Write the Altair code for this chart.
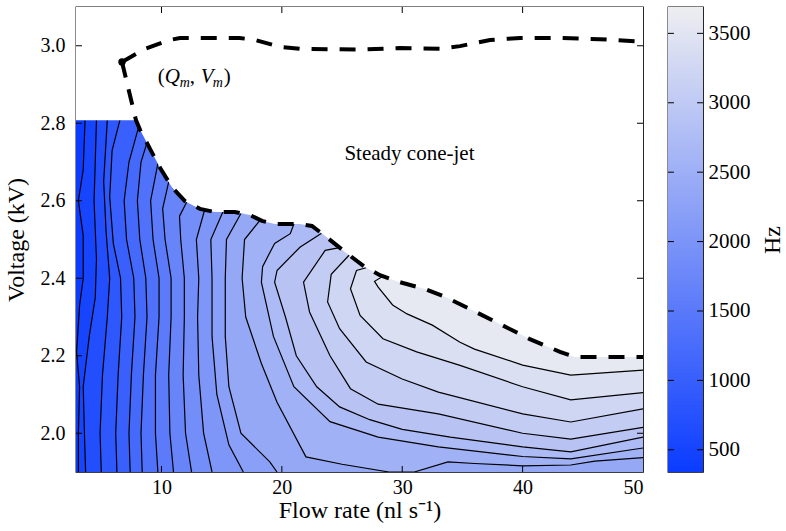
import numpy as np
import pandas as pd
import altair as alt

FONT = "Liberation Serif"
FLOW_MIN, FLOW_MAX = 2.9, 50.0
V_MIN, V_MAX = 1.9, 3.1
HZ_MIN, HZ_MAX = 340, 3690
BLUE, GREY = "#0b3cff", "#eeeef1"

# lower limit of the steady cone-jet region (flow rate, voltage)
boundary_q = [2.9, 7.88, 8.22, 9.05, 9.88, 10.87, 11.95, 13.2, 14.44, 16.1, 17.35, 18.35,
              19.43, 21.5, 22.5, 23.6, 25.24, 26.9, 28.15, 29.8, 31.9, 33.55, 35.6, 38.1,
              40.6, 43.1, 44.35, 50.0]
boundary_v = [2.808, 2.808, 2.783, 2.734, 2.685, 2.635, 2.599, 2.579, 2.571, 2.571, 2.563, 2.548,
              2.540, 2.540, 2.535, 2.509, 2.468, 2.429, 2.408, 2.390, 2.372, 2.352, 2.321, 2.282,
              2.243, 2.210, 2.197, 2.197]

# upper limit of the steady cone-jet region
upper_q = [6.72, 8.63, 10.7, 11.54, 16.5, 17.77, 19.84, 21.5, 26.5, 29.8, 33.1, 34.8, 37.3,
           39.8, 43.1, 46.4, 50.0]
upper_v = [2.958, 2.992, 3.015, 3.02, 3.02, 3.015, 2.997, 2.992, 2.99, 2.994, 2.992, 2.999,
           3.015, 3.02, 3.02, 3.017, 3.01]

# minimum flow rate point
q_m, v_m = 6.72, 2.958

# jet frequency iso-lines (Hz): (flow rate, voltage) along each line,
# oriented so that higher frequencies lie on the right-hand side
c510 = [(3.1, 1.9), (3.1, 2.0), (3.2, 2.12), (2.95, 2.21), (3.2, 2.33), (3.5, 2.4), (3.5, 2.51),
        (3.1, 2.6), (3.5, 2.68), (3.65, 2.808)]
c680 = [(3.7, 1.9), (3.6, 2.0), (3.5, 2.12), (4.0, 2.25), (4.5, 2.35), (4.6, 2.45), (4.4, 2.6),
        (4.5, 2.7), (4.6, 2.808)]
c850 = [(5.0, 1.9), (4.9, 2.0), (5.1, 2.15), (5.5, 2.3), (5.7, 2.4), (5.4, 2.52), (5.2, 2.65),
        (5.5, 2.808)]
c1020 = [(6.3, 1.9), (6.2, 2.0), (6.4, 2.15), (6.7, 2.3), (6.6, 2.4), (6.0, 2.49), (5.7, 2.61),
         (5.9, 2.73), (6.55, 2.808)]
c1190 = [(7.4, 1.9), (7.3, 2.0), (7.5, 2.15), (7.8, 2.3), (7.7, 2.4), (7.1, 2.5), (6.9, 2.6),
         (7.3, 2.7), (8.1, 2.79)]
c1360 = [(8.4, 1.9), (8.3, 2.0), (8.5, 2.15), (8.8, 2.3), (8.7, 2.4), (8.2, 2.5), (8.0, 2.6),
         (8.3, 2.7), (8.8, 2.75)]
c1530 = [(9.7, 1.9), (9.5, 2.0), (9.5, 2.15), (9.8, 2.3), (9.8, 2.4), (9.3, 2.5), (9.1, 2.6),
         (9.7, 2.696)]
c1700 = [(11.0, 1.9), (10.7, 2.0), (10.6, 2.15), (10.8, 2.3), (10.8, 2.4), (10.3, 2.5),
         (10.1, 2.58), (10.6, 2.649)]
c1870 = [(12.5, 1.9), (12.0, 2.0), (11.8, 2.15), (11.9, 2.3), (11.9, 2.4), (11.6, 2.5),
         (11.5, 2.56), (12.1, 2.597)]
c2040 = [(14.2, 1.9), (13.5, 2.0), (13.1, 2.15), (13.0, 2.3), (13.1, 2.4), (12.9, 2.5),
         (13.6, 2.578)]
c2210 = [(16.8, 1.9), (15.6, 1.97), (14.6, 2.1), (14.2, 2.25), (14.2, 2.4), (14.1, 2.5),
         (15.1, 2.571)]
c2380 = [(19.6, 1.9), (19.0, 1.926), (16.6, 2.0), (15.6, 2.12), (15.3, 2.25), (15.3, 2.4),
         (15.4, 2.5), (16.6, 2.567)]
c2550 = [(50.0, 1.937), (46.0, 1.928), (44.0, 1.918), (40.0, 1.916), (36.0, 1.922), (33.8, 1.926),
         (31.0, 1.9), (28.9, 1.9), (25.0, 1.92), (22.0, 1.939), (19.6, 2.08), (18.3, 2.18),
         (17.0, 2.3), (16.7, 2.4), (16.9, 2.5), (18.2, 2.55)]
c2720 = [(50.0, 1.962), (44.0, 1.934), (40.0, 1.94), (33.0, 1.965), (28.0, 1.99), (24.0, 2.03),
         (21.0, 2.12), (19.3, 2.25), (18.3, 2.39), (18.4, 2.43), (19.4, 2.49), (20.7, 2.515),
         (21.0, 2.54)]
c2890 = [(50.0, 1.99), (44.0, 1.952), (40.0, 1.965), (34.0, 1.99), (30.0, 2.01), (27.3, 2.035),
         (24.8, 2.068), (22.9, 2.12), (21.2, 2.2), (20.3, 2.3), (19.4, 2.39), (19.6, 2.42),
         (21.5, 2.48), (23.3, 2.516)]
c3060 = [(50.0, 2.015), (44.0, 1.985), (40.0, 2.0), (33.0, 2.05), (28.0, 2.075), (25.7, 2.115),
         (24.0, 2.2), (22.3, 2.313), (21.8, 2.39), (23.6, 2.472), (24.8, 2.479)]
c3230 = [(50.0, 2.063), (44.0, 2.029), (40.0, 2.05), (33.0, 2.106), (30.0, 2.14), (27.0, 2.184),
         (24.8, 2.27), (23.8, 2.339), (24.1, 2.41), (25.6, 2.46)]
c3400 = [(50.0, 2.105), (44.0, 2.086), (40.0, 2.12), (34.8, 2.175), (31.2, 2.21), (28.4, 2.244),
         (26.5, 2.304), (25.7, 2.373), (26.2, 2.42), (27.0, 2.427)]
c3570 = [(50.0, 2.163), (44.0, 2.15), (40.0, 2.176), (36.0, 2.217), (34.8, 2.235), (32.5, 2.279),
         (30.4, 2.308), (29.2, 2.331), (28.0, 2.377), (27.7, 2.392), (28.4, 2.405)]

LEVEL_LINES = [(510, c510), (680, c680), (850, c850), (1020, c1020), (1190, c1190),
               (1360, c1360), (1530, c1530), (1700, c1700), (1870, c1870), (2040, c2040),
               (2210, c2210), (2380, c2380), (2550, c2550), (2720, c2720), (2890, c2890),
               (3060, c3060), (3230, c3230), (3400, c3400), (3570, c3570)]

x_ticks = [10, 20, 30, 40, 50]
y_ticks = [2.0, 2.2, 2.4, 2.6, 2.8, 3.0]
hz_ticks = [500, 1000, 1500, 2000, 2500, 3000, 3500]

x_scale = alt.Scale(domain=[FLOW_MIN, FLOW_MAX], nice=False, zero=False)
y_scale = alt.Scale(domain=[V_MIN, V_MAX], nice=False, zero=False)
c_scale = alt.Scale(domain=[HZ_MIN, HZ_MAX], range=[BLUE, GREY], interpolate="rgb")

txt = dict(labelFont=FONT, titleFont=FONT, labelFontSize=20, titleFontSize=24,
           titleFontWeight="normal", labelColor="black", titleColor="black",
           tickSize=0, domain=False, grid=False)
x_axis = alt.Axis(values=x_ticks, labelPadding=5, titlePadding=1, **txt)
y_axis = alt.Axis(values=y_ticks, format=".1f", labelPadding=11, titlePadding=12, **txt)
X_TITLE = "Flow rate (nl s\u207b\u00b9)"
Y_TITLE = "Voltage (kV)"


def X(f="x"):
    return alt.X(f"{f}:Q", scale=x_scale, axis=x_axis, title=X_TITLE)


def Y(f="y"):
    return alt.Y(f"{f}:Q", scale=y_scale, axis=y_axis, title=Y_TITLE)


# whole domain painted with the lowest band first
base = alt.Chart(pd.DataFrame({"x": [FLOW_MIN], "x2": [FLOW_MAX], "y": [V_MIN],
                               "y2": [V_MAX], "hz": [HZ_MIN]})).mark_rect().encode(
    x=X(), x2="x2:Q", y=Y(), y2="y2:Q",
    color=alt.Color("hz:Q", scale=c_scale, legend=None),
)

# each band: region at or above its level, closed around the upper-right corner
band_layers = []
line_rows = []
for lev, pts in LEVEL_LINES:
    (x0, y0), (xe, ye) = pts[0], pts[-1]
    if y0 <= V_MIN:
        pre = [(x0, V_MIN - 0.1)]
        post = [(xe, V_MAX + 0.2), (FLOW_MAX + 1, V_MAX + 0.2), (FLOW_MAX + 1, V_MIN - 0.1)]
    else:
        pre = [(FLOW_MAX + 1, y0)]
        post = [(xe, V_MAX + 0.2), (FLOW_MAX + 1, V_MAX + 0.2)]
    poly = pre + list(pts) + post
    pdf = pd.DataFrame({"x": [p[0] for p in poly], "y": [p[1] for p in poly],
                        "i": list(range(len(poly))), "hz": lev})
    band_layers.append(
        alt.Chart(pdf).mark_line(filled=True, clip=True, strokeWidth=0).encode(
            x=X(), y=Y(), order="i:Q",
            color=alt.Color("hz:Q", scale=c_scale, legend=None)))
    for i, (x, y) in enumerate(pts):
        line_rows.append({"x": x, "y": y, "i": i, "hz": lev})

lines = alt.Chart(pd.DataFrame(line_rows)).mark_line(
    color="black", strokeWidth=1.2, clip=True).encode(
    x=X(), y=Y(), detail="hz:N", order="i:Q")

# outside the steady cone-jet region stays white
cover = alt.Chart(pd.DataFrame({"x": boundary_q, "y": boundary_v})).mark_area(
    color="white", clip=True).encode(x=X(), y=Y(), y2=alt.Y2(datum=V_MAX))

lower_q = [q_m] + boundary_q[1:]
lower_v = [v_m] + boundary_v[1:]
dash = dict(color="black", strokeWidth=4, strokeDash=[16, 12], strokeCap="butt", clip=True)
lower = alt.Chart(pd.DataFrame({"x": lower_q, "y": lower_v, "i": range(len(lower_q))})).mark_line(
    **dash).encode(x=X(), y=Y(), order="i:Q")
upper = alt.Chart(pd.DataFrame({"x": upper_q, "y": upper_v, "i": range(len(upper_q))})).mark_line(
    **dash).encode(x=X(), y=Y(), order="i:Q")

dot = alt.Chart(pd.DataFrame({"x": [q_m], "y": [v_m]})).mark_point(
    filled=True, color="black", size=55, opacity=1).encode(x=X(), y=Y())

label = alt.Chart(pd.DataFrame({"x": [30.6], "y": [2.72], "t": ["Steady cone-jet"]})).mark_text(
    font=FONT, fontSize=21, color="black").encode(x=X(), y=Y(), text="t:N")

# (Q_m, V_m) written piece by piece for the italic subscripts
qm_pieces = [("(", 0, 0, "normal", 21), ("Q", 7, 0, "italic", 21), ("m", 22, 6, "italic", 14),
             (",", 32, 0, "normal", 21), ("V", 43, 0, "italic", 21), ("m", 55, 6, "italic", 14),
             (")", 66, 0, "normal", 21)]
qm_layers = [
    alt.Chart(pd.DataFrame({"x": [9.7], "y": [2.92], "t": [t]})).mark_text(
        font=FONT, fontSize=fs, fontStyle=st, align="left", baseline="middle", dx=dx, dy=dy,
        color="black").encode(x=X(), y=Y(), text="t:N")
    for t, dx, dy, st, fs in qm_pieces
]

# inward tick marks on all four sides
tk_x = 0.5
tk_y = 0.0155
tick_df = pd.DataFrame(
    [{"x": v, "x2": v, "y": V_MIN, "y2": V_MIN + tk_y} for v in x_ticks[:-1]]
    + [{"x": v, "x2": v, "y": V_MAX - tk_y, "y2": V_MAX} for v in x_ticks[:-1]]
    + [{"x": FLOW_MIN, "x2": FLOW_MIN + tk_x, "y": v, "y2": v} for v in y_ticks]
    + [{"x": FLOW_MAX - tk_x, "x2": FLOW_MAX, "y": v, "y2": v} for v in y_ticks])
ticks = alt.Chart(tick_df).mark_rule(color="black", strokeWidth=1).encode(
    x=X(), x2="x2:Q", y=Y(), y2="y2:Q")

main = alt.layer(base, *band_layers, lines, cover, lower, upper, dot, label, *qm_layers,
                 ticks).properties(width=567, height=465)

# colour bar
cb_y = alt.Scale(domain=[HZ_MIN, HZ_MAX], nice=False, zero=False)
cb_x = alt.Scale(domain=[0, 1])
hz_axis = alt.Axis(orient="right", values=hz_ticks, format="d", labelPadding=5,
                   titlePadding=10, titleAngle=270, titleBaseline="top",
                   **dict(txt, labelFontSize=21))
hz_lo = np.arange(HZ_MIN, HZ_MAX, 10)
cb_df = pd.DataFrame({"lo": hz_lo, "hi": np.minimum(hz_lo + 16, HZ_MAX), "mid": hz_lo + 5})
bar = alt.Chart(cb_df).mark_rect().encode(
    x=alt.X(datum=0, scale=cb_x, axis=None), x2=alt.X2(datum=1),
    y=alt.Y("lo:Q", scale=cb_y, axis=hz_axis, title="Hz"),
    y2="hi:Q",
    color=alt.Color("mid:Q", scale=c_scale, legend=None))
cb_ticks = alt.Chart(pd.DataFrame(
    [{"a": 0.0, "b": 0.17, "v": v} for v in hz_ticks]
    + [{"a": 0.83, "b": 1.0, "v": v} for v in hz_ticks])).mark_rule(
    color="black", strokeWidth=1).encode(
    x=alt.X("a:Q", scale=cb_x, axis=None), x2="b:Q",
    y=alt.Y("v:Q", scale=cb_y, axis=hz_axis, title="Hz"))
cbar = alt.layer(bar, cb_ticks).properties(width=35, height=465)

chart = alt.hconcat(main, cbar, spacing=21).properties(
    padding={"left": 3, "top": 5, "right": 1, "bottom": 1}
).configure_view(stroke="black", strokeWidth=1.3)

chart.save("out.html", embed_options={"renderer": "svg", "actions": False})
